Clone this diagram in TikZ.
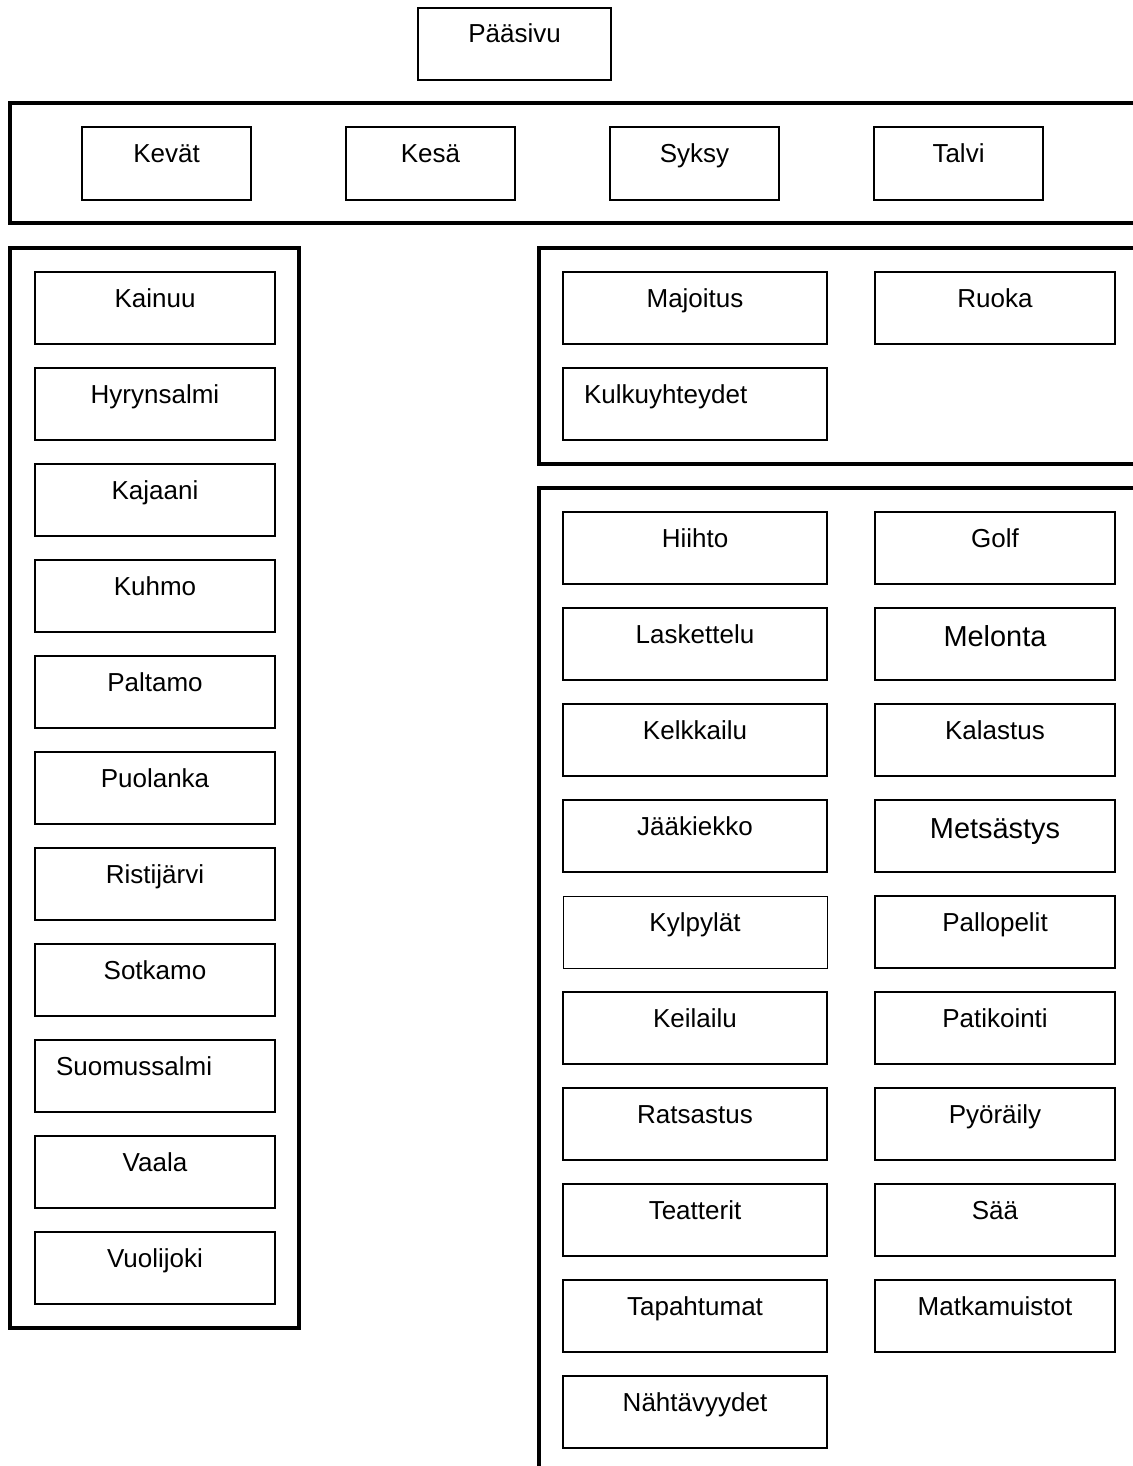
\documentclass[tikz,border=0pt]{standalone}
\usepackage{fontspec}
\setmainfont{Liberation Sans}

\tikzset{
  box/.style={draw, line width=1.5pt, minimum height=54pt, inner sep=0pt,
    font=\fontsize{19.5}{23}\selectfont, text height=12pt, text depth=13.5pt},
  bigbox/.style={box, font=\fontsize{21.7}{26}\selectfont, text height=14pt, text depth=11pt},
  wide/.style={minimum width=198pt},
  narrow/.style={minimum width=180pt},
  season/.style={minimum width=126.75pt},
  panel/.style={line width=3pt}
}

\begin{document}
\begin{tikzpicture}[x=0.75pt, y=-0.75pt]
    \useasboundingbox (0,0) rectangle (1132,1466);

    % etusivu
    \node[box, minimum width=144.75pt] (paasivu) at (514.5,44) {Pääsivu};

    % vuodenajat
    \draw[panel] (1140,103) -- (10,103) -- (10,223) -- (1140,223);
    \node[box,season] (kevat) at (166.5,163.5) {Kevät};
    \node[box,season] (kesa)  at (430.5,163.5) {Kesä};
    \node[box,season] (syksy) at (694.5,163.5) {Syksy};
    \node[box,season] (talvi) at (958.5,163.5) {Talvi};

    % kunnat
    \draw[panel] (10,248) rectangle (299,1328);
    \node[box,narrow] (kainuu)     at (155,308)  {Kainuu};
    \node[box,narrow] (hyrynsalmi) at (155,404)  {Hyrynsalmi};
    \node[box,narrow] (kajaani)    at (155,500)  {Kajaani};
    \node[box,narrow] (kuhmo)      at (155,596)  {Kuhmo};
    \node[box,narrow] (paltamo)    at (155,692)  {Paltamo};
    \node[box,narrow] (puolanka)   at (155,788)  {Puolanka};
    \node[box,narrow] (ristijarvi) at (155,884)  {Ristijärvi};
    \node[box,narrow] (sotkamo)    at (155,980)  {Sotkamo};
    \node[box, text width=148.5pt, inner xsep=15.75pt, align=left]
                      (suomussalmi) at (155,1076) {Suomussalmi};
    \node[box,narrow] (vaala)      at (155,1172) {Vaala};
    \node[box,narrow] (vuolijoki)  at (155,1268) {Vuolijoki};

    % palvelut
    \draw[panel] (1140,248) -- (539,248) -- (539,464) -- (1140,464);
    \node[box,wide]   (majoitus) at (695,308) {Majoitus};
    \node[box,narrow] (ruoka)    at (995,308) {Ruoka};
    \node[box, text width=166.5pt, inner xsep=15.75pt, align=left]
                      (kulku)    at (695,404) {Kulkuyhteydet};

    % aktiviteetit
    \draw[panel] (1140,488) -- (539,488) -- (539,1470);
    \node[box,wide]   (hiihto)      at (695,548)  {Hiihto};
    \node[box,narrow] (golf)        at (995,548)  {Golf};
    \node[box,wide]   (laskettelu)  at (695,644)  {Laskettelu};
    \node[bigbox,narrow] (melonta)  at (995,644)  {Melonta};
    \node[box,wide]   (kelkkailu)   at (695,740)  {Kelkkailu};
    \node[box,narrow] (kalastus)    at (995,740)  {Kalastus};
    \node[box,wide]   (jaakiekko)   at (695,836)  {Jääkiekko};
    \node[bigbox,narrow] (metsastys) at (995,836) {Metsästys};
    \node[box,wide, line width=0.75pt] (kylpylat) at (695,932) {Kylpylät};
    \node[box,narrow] (pallopelit)  at (995,932)  {Pallopelit};
    \node[box,wide]   (keilailu)    at (695,1028) {Keilailu};
    \node[box,narrow] (patikointi)  at (995,1028) {Patikointi};
    \node[box,wide]   (ratsastus)   at (695,1124) {Ratsastus};
    \node[box,narrow] (pyoraily)    at (995,1124) {Pyöräily};
    \node[box,wide]   (teatterit)   at (695,1220) {Teatterit};
    \node[box,narrow] (saa)         at (995,1220) {Sää};
    \node[box,wide]   (tapahtumat)  at (695,1316) {Tapahtumat};
    \node[box,narrow] (muistot)     at (995,1316) {Matkamuistot};
    \node[box,wide]   (nahtavyydet) at (695,1412) {Nähtävyydet};

\end{tikzpicture}
\end{document}
